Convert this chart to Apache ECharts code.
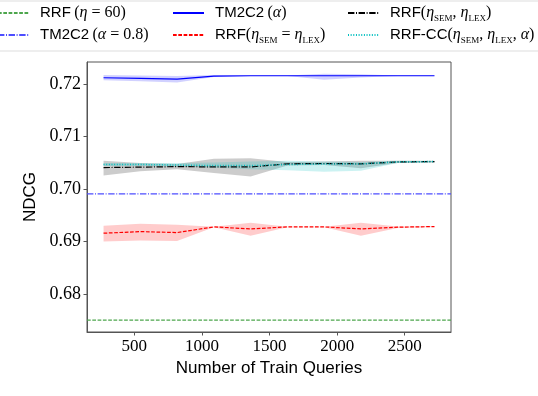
<!DOCTYPE html>
<html><head><meta charset="utf-8">
<script src="https://cdn.jsdelivr.net/npm/echarts@6/dist/echarts.min.js"></script>
<style>html,body{margin:0;padding:0;background:#fff}#c{width:538px;height:396px}</style>
</head><body><div id="c"></div>
<script>
// ---- data ----
const trainQueries = [272, 544, 816, 1088, 1360, 1632, 1904, 2176, 2448, 2720];
const xTicks = [500, 1000, 1500, 2000, 2500];
const yTicks = [0.68, 0.69, 0.70, 0.71, 0.72];
const rrfEta60 = 0.675;
const tm2c2Alpha08 = 0.6991;
const tm2c2Mean  = [0.72126, 0.72115, 0.72100, 0.72158, 0.72164, 0.72164, 0.72164, 0.72164, 0.72164, 0.72164];
const tm2c2Lo    = [0.72076, 0.72060, 0.72035, 0.72140, 0.72158, 0.72158, 0.72085, 0.72130, 0.72158, 0.72158];
const tm2c2Hi    = [0.72176, 0.72170, 0.72160, 0.72176, 0.72170, 0.72170, 0.72200, 0.72190, 0.72170, 0.72170];
const rrfEqMean  = [0.69160, 0.69190, 0.69172, 0.69280, 0.69242, 0.69280, 0.69280, 0.69242, 0.69275, 0.69286];
const rrfEqLo    = [0.69000, 0.69019, 0.69010, 0.69275, 0.69110, 0.69275, 0.69275, 0.69110, 0.69260, 0.69280];
const rrfEqHi    = [0.69300, 0.69338, 0.69320, 0.69285, 0.69360, 0.69285, 0.69285, 0.69360, 0.69290, 0.69292];
const rrfSLMean  = [0.70412, 0.70420, 0.70430, 0.70425, 0.70425, 0.70483, 0.70490, 0.70483, 0.70520, 0.70527];
const rrfSLLo    = [0.70260, 0.70340, 0.70380, 0.70310, 0.70240, 0.70450, 0.70460, 0.70400, 0.70500, 0.70510];
const rrfSLHi    = [0.70540, 0.70500, 0.70480, 0.70580, 0.70592, 0.70520, 0.70530, 0.70540, 0.70540, 0.70540];
const rrfCCMean  = [0.70470, 0.70470, 0.70460, 0.70450, 0.70450, 0.70470, 0.70480, 0.70480, 0.70520, 0.70527];
const rrfCCLo    = [0.70440, 0.70440, 0.70430, 0.70410, 0.70380, 0.70360, 0.70330, 0.70350, 0.70500, 0.70510];
const rrfCCHi    = [0.70500, 0.70500, 0.70500, 0.70510, 0.70530, 0.70540, 0.70530, 0.70520, 0.70540, 0.70535];
const xRange = [149.6, 2842.4];
const yRange = [0.67275, 0.72426];
const names = ['RRF (η = 60)', 'TM2C2 (α = 0.8)', 'TM2C2 (α)', 'RRF(ηSEM = ηLEX)', 'RRF(ηSEM, ηLEX)', 'RRF-CC(ηSEM, ηLEX, α)'];
const legendRich = {
  'RRF (η = 60)': '{g| }{s|RRF} {m|(}{i|η}{m| = 60)}',
  'TM2C2 (α = 0.8)': '{g| }{s|TM2C2} {m|(}{i|α}{m| = 0.8)}',
  'TM2C2 (α)': '{g| }{s|TM2C2} {m|(}{i|α}{m|)}',
  'RRF(ηSEM = ηLEX)': '{g| }{s|RRF}{m|(}{i|η}{sub|SEM}{m| = }{i|η}{sub|LEX}{m|)}',
  'RRF(ηSEM, ηLEX)': '{g| }{s|RRF}{m|(}{i|η}{sub|SEM}{m|, }{i|η}{sub|LEX}{m|)}',
  'RRF-CC(ηSEM, ηLEX, α)': '{g| }{s|RRF-CC}{m|(}{i|η}{sub|SEM}{m|, }{i|η}{sub|LEX}{m|, }{i|α}{m|)}'
};

function pairs(ys){ return trainQueries.map((x,i)=>[x, ys[i]]); }
function band(lo, hi, color){
  return {
    type:'custom', silent:true, z:1,
    data: trainQueries.map((x,i)=>[x, lo[i], hi[i]]),
    encode:{x:0, y:[1,2]},
    renderItem:function(params, api){
      if (params.dataIndex !== 0) return null;
      const top = trainQueries.map((x,i)=>api.coord([x, hi[i]]));
      const bot = trainQueries.map((x,i)=>api.coord([x, lo[i]])).reverse();
      return {type:'polygon', shape:{points: top.concat(bot)}, style:{fill:color, stroke:null}};
    }
  };
}
function hline(y){ return [[xRange[0], y], [xRange[1], y]]; }
const chart = echarts.init(document.getElementById('c'), null, {renderer:'canvas'});
const rich = {
  g:{width:6},
  s:{fontFamily:'Liberation Sans', fontSize:15, color:'#000', lineHeight:20},
  m:{fontFamily:'Liberation Serif', fontSize:16, color:'#000', lineHeight:20},
  i:{fontFamily:'Liberation Serif', fontSize:16, fontStyle:'italic', color:'#000', lineHeight:20},
  sub:{fontFamily:'Liberation Serif', fontSize:9, color:'#000', verticalAlign:'bottom', lineHeight:20}
};
const legPos = [[-3,5],[-3,27],[172,5],[172,27],[347,5],[347,27]];
const legends = names.map((n,i)=>({
  data:[n], left:legPos[i][0], top:legPos[i][1], itemWidth:31, itemHeight:14, padding:0,
  selectedMode:false, formatter:(nm)=>legendRich[nm], textStyle:{rich:rich},
  itemStyle:{opacity:0, borderWidth:0}
}));
const series = [
  band(tm2c2Lo, tm2c2Hi, 'rgba(0,0,255,0.18)'),
  band(rrfEqLo, rrfEqHi, 'rgba(255,0,0,0.2)'),
  band(rrfSLLo, rrfSLHi, 'rgba(0,0,0,0.2)'),
  band(rrfCCLo, rrfCCHi, 'rgba(0,191,191,0.2)'),
  {type:'line', name:names[0], data:hline(rrfEta60), symbol:'none', lineStyle:{color:'#4da64d', width:1.2, type:[3.7,1.6]}, itemStyle:{color:'#4da64d'}, z:2},
  {type:'line', name:names[1], data:hline(tm2c2Alpha08), symbol:'none', lineStyle:{color:'#4d4dff', width:1.2, type:[6.4,1.6,1,1.6]}, itemStyle:{color:'#4d4dff'}, z:2},
  {type:'line', name:names[2], data:pairs(tm2c2Mean), symbol:'none', lineStyle:{color:'#0000ff', width:1.2}, itemStyle:{color:'#0000ff'}, z:3},
  {type:'line', name:names[3], data:pairs(rrfEqMean), symbol:'none', lineStyle:{color:'#ff0000', width:1.2, type:[3.7,1.6]}, itemStyle:{color:'#ff0000'}, z:3},
  {type:'line', name:names[4], data:pairs(rrfSLMean), symbol:'none', lineStyle:{color:'#000000', width:1.2, type:[6.4,1.6,1,1.6]}, itemStyle:{color:'#000'}, z:3},
  {type:'line', name:names[5], data:pairs(rrfCCMean), symbol:'none', lineStyle:{color:'#00bfbf', width:1.5, type:[1,1.65]}, itemStyle:{color:'#00bfbf'}, z:4}
];
chart.setOption({
  animation:false,
  backgroundColor:'#fff',
  legend:legends,
  grid:{left:87, right:87, top:62, bottom:64, show:true, borderColor:'#555', borderWidth:1, containLabel:false},
  xAxis:{type:'value', min:xRange[0], max:xRange[1],
    name:'Number of Train Queries', nameLocation:'middle', nameGap:24,
    nameTextStyle:{fontFamily:'Liberation Sans', fontSize:17, color:'#000'},
    axisLine:{show:true, lineStyle:{color:'#555'}},
    axisTick:{show:true, customValues:xTicks, length:3.5, lineStyle:{color:'#555'}},
    axisLabel:{customValues:xTicks, formatter:(v)=>String(v), fontFamily:'Liberation Serif', fontSize:17, color:'#000', margin:6},
    splitLine:{show:false}},
  yAxis:{type:'value', min:yRange[0], max:yRange[1],
    name:'NDCG', nameLocation:'middle', nameGap:40,
    nameTextStyle:{fontFamily:'Liberation Sans', fontSize:17, color:'#000'},
    axisLine:{show:true, lineStyle:{color:'#555'}},
    axisTick:{show:true, customValues:yTicks, length:3.5, lineStyle:{color:'#555'}},
    axisLabel:{customValues:yTicks, formatter:(v)=>v.toFixed(2), fontFamily:'Liberation Serif', fontSize:18, color:'#000', margin:6},
    splitLine:{show:false}},
  graphic:[{type:'rect', shape:{x:-2, y:1, width:542, height:50}, style:{fill:'none', stroke:'#dddddd', lineWidth:1}, silent:true, z:-1}],
  series:series
});
</script></body></html>
